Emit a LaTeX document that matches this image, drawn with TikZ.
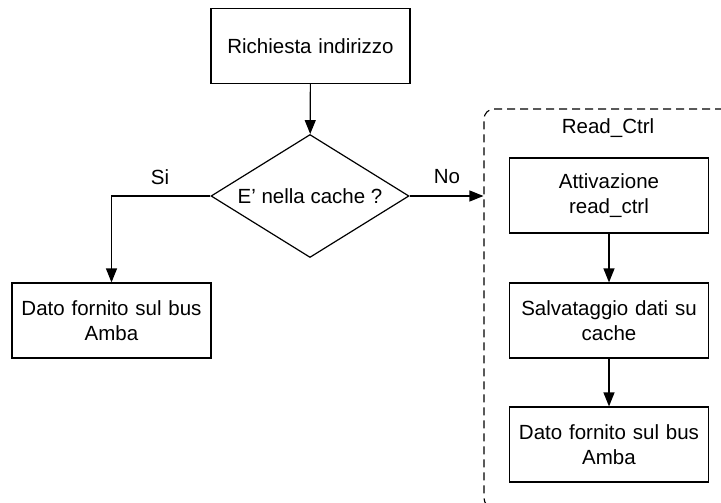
\documentclass[tikz,border=0pt]{standalone}
\usepackage{fontspec}
\setmainfont{Liberation Sans}
\usetikzlibrary{arrows.meta,shapes.geometric}

\tikzset{
  every node/.style={font=\fontsize{20.5}{25}\selectfont},
  stepbox/.style={draw, line width=1.2pt, minimum width=199pt, minimum height=75pt,
    text width=190pt, align=center, inner sep=0pt},
  decision/.style={draw, diamond, line width=1.2pt, aspect=1.61, inner sep=0pt,
    minimum width=198pt, minimum height=123pt},
  group/.style={draw=black, dash pattern=on 8pt off 5pt, line width=1.1pt,
    rounded corners=10pt},
  flow/.style={line width=1.2pt, -{Triangle[length=14pt,width=11pt]}},
  lbl/.style={inner sep=0pt}
}

\begin{document}
\begin{tikzpicture}[x=1pt,y=-1pt]
  \useasboundingbox (0,0) rectangle (721,503);
  \clip (0,0) rectangle (721,503);
  \fill[white] (0,0) rectangle (721,503);

  % main decision flow
  \node[stepbox] (req) at (310.5,46) {Richiesta indirizzo};
  \node[decision] (dec) at (310,196) {E’ nella cache ?};
  \node[stepbox] (hit) at (111.5,320.5) {Dato fornito sul bus\\Amba};

  % read controller group (runs past the right and bottom edges)
  \node[group, minimum width=262pt, minimum height=399pt, inner sep=0pt]
    (ctrl) at (615,308.5) {};
  \node[lbl] (ctrltitle) at (608,128) {Read\_Ctrl};
  \node[stepbox] (act) at (609,195.5) {Attivazione\\read\_ctrl};
  \node[stepbox] (save) at (609,320.5) {Salvataggio dati su\\cache};
  \node[stepbox] (give) at (609,444.5) {Dato fornito sul bus\\Amba};

  % connectors
  \draw[flow] (req) -- (dec);
  \draw[flow] (dec.west) -| (hit.north);
  \draw[flow] (dec.east) -- (dec.east -| ctrl.west);
  \draw[flow] (act) -- (save);
  \draw[flow] (save) -- (give);

  % branch labels
  \node[lbl] (yes) at (160,177) {Si};
  \node[lbl] (no) at (447,177) {No};
\end{tikzpicture}
\end{document}
